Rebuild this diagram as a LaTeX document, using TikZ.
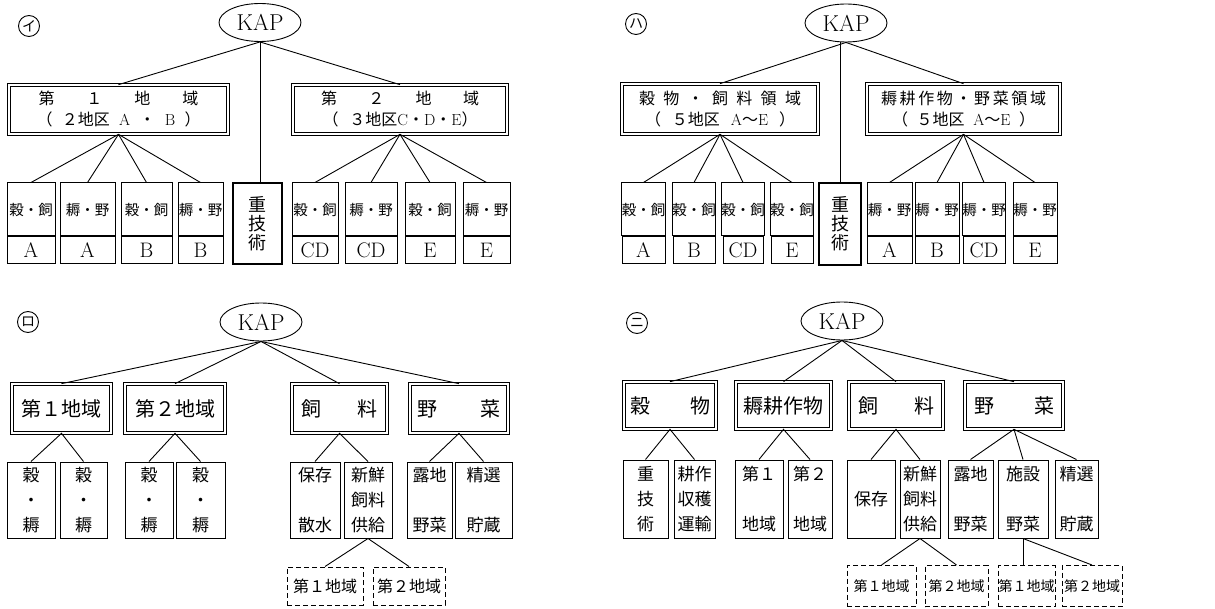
\documentclass[tikz,border=0pt]{standalone}
\usepackage{fontspec}
\usetikzlibrary{shapes.geometric}
\newfontfamily\jp{Noto Sans CJK JP}
\newcommand{\fs}[2]{\fontsize{#1}{#2}\selectfont}
\tikzset{
  kap/.style={ellipse, draw, line width=0.9pt, inner sep=0pt, minimum width=82pt, minimum height=38pt, font=\fs{23}{24}},
  lab/.style={circle, draw, line width=0.9pt, inner sep=0pt, minimum size=21pt, font=\jp\fs{14}{14}},
  reg/.style={draw, double, double distance=2.4pt, line width=0.7pt, inner sep=0pt, align=center, font=\jp\fs{16}{21}},
  grp/.style={reg, font=\jp\fs{20}{22}},
  leaf/.style={draw, line width=1pt, inner sep=0pt, align=center, font=\jp\fs{14.5}{16}},
  sub/.style={draw, line width=1pt, inner sep=0pt, minimum height=27pt, font=\fs{21}{21}},
  core/.style={draw, line width=2.8pt, inner sep=0pt, align=center, font=\jp\fs{18}{19}},
  col/.style={leaf, font=\jp\fs{17}{25}},
  fut/.style={draw, dash pattern=on 5pt off 3pt, line width=1pt, inner sep=0pt, font=\jp\fs{15}{16}},
  tie/.style={line width=0.9pt},
}
% upper cell with its district letter below
\newcommand{\pairbox}[5]{%
  \node[leaf, minimum width=#3pt, minimum height=53pt] (#1) at (#2,209.5) {#4};
  \node[sub, minimum width=#3pt, anchor=north] (#1b) at (#1.south) {#5};}

\begin{document}
\begin{tikzpicture}[x=1pt, y=-1pt]
  \useasboundingbox (0,0) rectangle (1215,609);
  % (i) two regions
  \node[lab] (lab1) at (29,26) {イ};
  \node[kap] (kap1) at (260,22.5) {KAP};
  \node[reg, minimum width=219pt, minimum height=49pt] (d11) at (118.5,109.5)
    {\makebox[160pt][s]{第 １ 地 域}\\\makebox[164pt][s]{（ ２地区 \textrm{A} ・ \textrm{B} ）}};
  \node[reg, minimum width=214pt, minimum height=49pt] (d12) at (400,109.5)
    {\makebox[158pt][s]{第 ２ 地 域}\\\makebox[155pt][s]{（ ３地区\textrm{C}・\textrm{D}・\textrm{E}）}};
  \pairbox{l11}{31}{48}{穀・飼}{A}
  \pairbox{l12}{87.5}{55}{耨・野}{A}
  \pairbox{l13}{146.5}{51}{穀・飼}{B}
  \pairbox{l14}{200.5}{45}{耨・野}{B}
  \node[core, minimum width=49pt, minimum height=81pt] (jg1) at (257.5,223.5) {重\\技\\術};
  \pairbox{l15}{315}{46}{穀・飼}{CD}
  \pairbox{l16}{371}{52}{耨・野}{CD}
  \pairbox{l17}{430}{50}{穀・飼}{E}
  \pairbox{l18}{486.5}{47}{耨・野}{E}
  \draw[tie] (kap1.south) -- (d11.north);
  \draw[tie] (kap1.south) -- (d12.north);
  \draw[tie] (kap1.south) -- (kap1.south |- jg1.north);
  \foreach \k in {1,...,4} \draw[tie] (d11.south) -- (l1\k.north);
  \foreach \k in {5,...,8} \draw[tie] (d12.south) -- (l1\k.north);

  % (ha) two crop fields
  \node[lab] (lab3) at (636,24) {ハ};
  \node[kap] (kap3) at (846,23) {KAP};
  \node[reg, minimum width=196pt, minimum height=50pt] (d31) at (720,109)
    {\makebox[162pt][s]{穀 物 ・ 飼 料 領 域}\\\makebox[150pt][s]{（ ５地区 \textrm{A}～\textrm{E} ）}};
  \node[reg, minimum width=193pt, minimum height=50pt] (d32) at (963.5,109)
    {\makebox[165pt][s]{耨 耕 作 物 ・ 野 菜 領 域}\\\makebox[143pt][s]{（ ５地区 \textrm{A}～\textrm{E} ）}};
  \pairbox{l31}{643.5}{43}{穀・飼}{A}
  \pairbox{l32}{694}{42}{穀・飼}{B}
  \pairbox{l33}{743}{40}{穀・飼}{CD}
  \pairbox{l34}{792}{42}{穀・飼}{E}
  \node[core, minimum width=42pt, minimum height=82pt] (jg3) at (840,224) {重\\技\\術};
  \pairbox{l35}{889.5}{45}{耨・野}{A}
  \pairbox{l36}{937}{44}{耨・野}{B}
  \pairbox{l37}{984}{42}{耨・野}{CD}
  \pairbox{l38}{1035}{44}{耨・野}{E}
  \draw[tie] (kap3.south) -- (d31.north);
  \draw[tie] (kap3.south) -- (d32.north);
  \draw[tie] (jg3.north) -- (jg3.north |- kap3.south);
  \foreach \k in {1,...,4} \draw[tie] (d31.south) -- (l3\k.north);
  \foreach \k in {5,...,8} \draw[tie] (d32.south) -- (l3\k.north);

  % (ro) regions plus feed and vegetables
  \node[lab] (lab2) at (28,322) {ロ};
  \node[kap] (kap2) at (261,322) {KAP};
  \node[grp, minimum width=99pt, minimum height=49pt] (g21) at (61.5,408.5) {第１地域};
  \node[grp, minimum width=100pt, minimum height=49pt] (g22) at (175,408.5) {第２地域};
  \node[grp, minimum width=95pt, minimum height=49pt] (g23) at (339.5,408.5) {\makebox[76pt]{飼\hfill 料}};
  \node[grp, minimum width=98pt, minimum height=49pt] (g24) at (459,408.5) {\makebox[83pt]{野\hfill 菜}};
  \node[col, minimum width=48pt, minimum height=76pt] (m21) at (31,500) {穀\\・\\耨};
  \node[col, minimum width=47pt, minimum height=76pt] (m22) at (83.5,500) {穀\\・\\耨};
  \node[col, minimum width=48pt, minimum height=76pt] (m23) at (149,500) {穀\\・\\耨};
  \node[col, minimum width=49pt, minimum height=76pt] (m24) at (200.5,500) {穀\\・\\耨};
  \node[col, minimum width=50pt, minimum height=76pt] (m25) at (315,500) {保存\\[25pt]散水};
  \node[col, minimum width=48pt, minimum height=76pt] (m26) at (368,500) {新鮮\\飼料\\供給};
  \node[col, minimum width=45pt, minimum height=76pt] (m27) at (429.5,500) {露地\\[25pt]野菜};
  \node[col, minimum width=57pt, minimum height=76pt] (m28) at (483.5,500) {精選\\[25pt]貯蔵};
  \node[fut, minimum width=76pt, minimum height=38pt, font=\jp\fs{16}{16}] (f21) at (325,586) {第１地域};
  \node[fut, minimum width=72pt, minimum height=38pt, font=\jp\fs{16}{16}] (f22) at (409,586) {第２地域};
  \foreach \k in {1,...,4} \draw[tie] (kap2.south) -- (g2\k.north);
  \draw[tie] (m21.north) -- (g21.south) -- (m22.north);
  \draw[tie] (m23.north) -- (g22.south) -- (m24.north);
  \draw[tie] (m25.north) -- (g23.south) -- (m26.north);
  \draw[tie] (m27.north) -- (g24.south) -- (m28.north);
  \draw[tie] (f21.north) -- (m26.south) -- (f22.north);

  % (ni) four crop groups
  \node[lab] (lab4) at (637,323) {ニ};
  \node[kap] (kap4) at (842,321) {KAP};
  \node[grp, minimum width=92pt, minimum height=47pt] (g41) at (670,405.5) {\makebox[80pt]{穀\hfill 物}};
  \node[grp, minimum width=95pt, minimum height=47pt] (g42) at (783.5,405.5) {耨耕作物};
  \node[grp, minimum width=94pt, minimum height=47pt] (g43) at (896,405.5) {\makebox[76pt]{飼\hfill 料}};
  \node[grp, minimum width=98pt, minimum height=47pt] (g44) at (1014,405.5) {\makebox[80pt]{野\hfill 菜}};
  \node[col, minimum width=45pt, minimum height=78pt] (m41) at (645.5,499) {重\\技\\術};
  \node[col, minimum width=41pt, minimum height=78pt] (m42) at (694.5,499) {耕作\\収穫\\運輸};
  \node[col, minimum width=48pt, minimum height=78pt] (m43) at (759,499) {第１\\[25pt]地域};
  \node[col, minimum width=44pt, minimum height=78pt] (m44) at (810,499) {第２\\[25pt]地域};
  \node[col, minimum width=48pt, minimum height=78pt] (m45) at (871,499) {保存};
  \node[col, minimum width=40pt, minimum height=78pt] (m46) at (920,499) {新鮮\\飼料\\供給};
  \node[col, minimum width=45pt, minimum height=78pt] (m47) at (970.5,499) {露地\\[25pt]野菜};
  \node[col, minimum width=50pt, minimum height=78pt] (m48) at (1023,499) {施設\\[25pt]野菜};
  \node[col, minimum width=43pt, minimum height=78pt] (m49) at (1076.5,499) {精選\\[25pt]貯蔵};
  \node[fut, minimum width=69pt, minimum height=41pt, font=\jp\fs{14}{14}] (f41) at (881.5,586) {第１地域};
  \node[fut, minimum width=63pt, minimum height=41pt, font=\jp\fs{14}{14}] (f42) at (956.5,586) {第２地域};
  \node[fut, minimum width=57pt, minimum height=41pt, font=\jp\fs{14}{14}] (f43) at (1026.5,586) {第１地域};
  \node[fut, minimum width=60pt, minimum height=41pt, font=\jp\fs{14}{14}] (f44) at (1092,586) {第２地域};
  \foreach \k in {1,...,4} \draw[tie] (kap4.south) -- (g4\k.north);
  \draw[tie] (m41.north) -- (g41.south) -- (m42.north);
  \draw[tie] (m43.north) -- (g42.south) -- (m44.north);
  \draw[tie] (m45.north) -- (g43.south) -- (m46.north);
  \foreach \k in {7,8,9} \draw[tie] (g44.south) -- (m4\k.north);
  \draw[tie] (f41.north) -- (m46.south) -- (f42.north);
  \draw[tie] (m48.south) -- (m48.south |- f43.north);
  \draw[tie] (m48.south) -- (f44.north);
\end{tikzpicture}
\end{document}
